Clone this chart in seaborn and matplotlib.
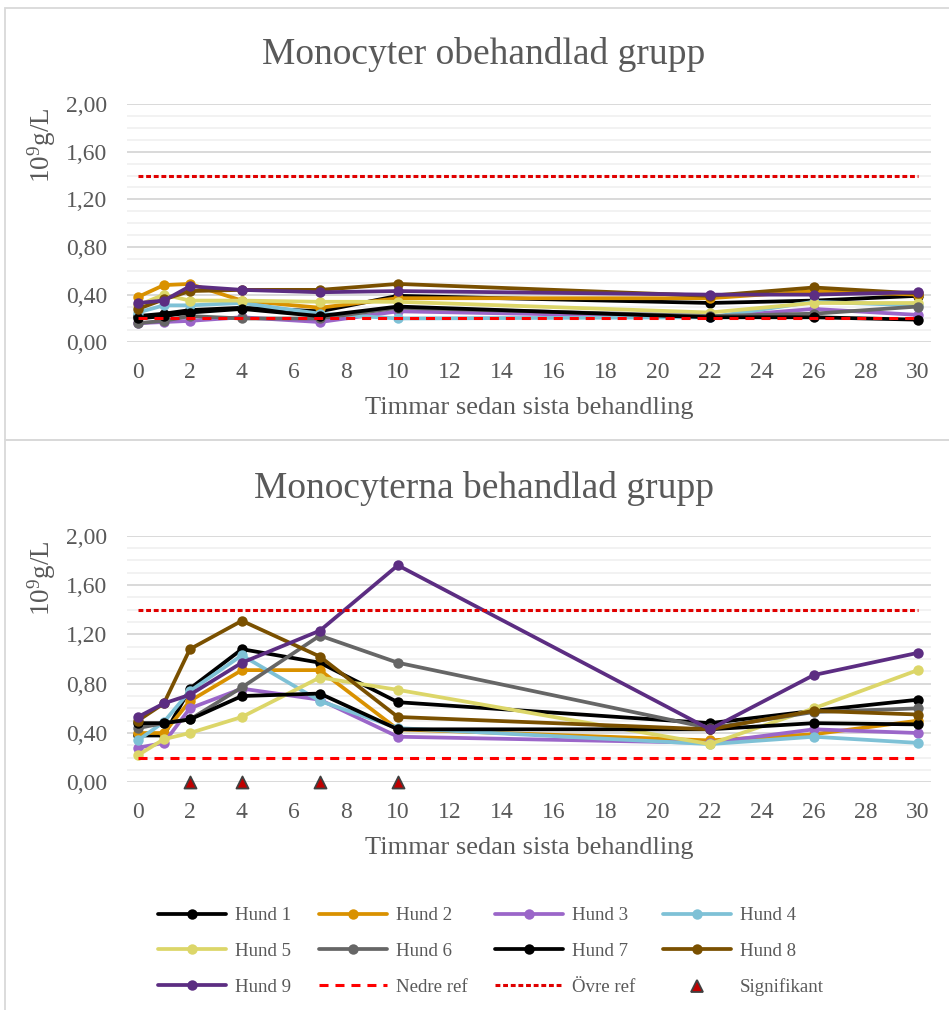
import numpy as np
import pandas as pd
import seaborn as sns
import matplotlib.pyplot as plt
from matplotlib.lines import Line2D
from matplotlib.patches import Rectangle
from matplotlib.ticker import MultipleLocator, FuncFormatter

# --- data -----------------------------------------------------------------
timmar = [0, 1, 2, 4, 7, 10, 22, 26, 30]
hundar = ["Hund 1", "Hund 2", "Hund 3", "Hund 4", "Hund 5",
          "Hund 6", "Hund 7", "Hund 8", "Hund 9"]
farger = ["#000000", "#D99100", "#9B66C9", "#7EC1D6", "#DCD669",
          "#666666", "#000000", "#7A5000", "#5C2D82"]

# obehandlad grupp
obeh_h1 = [0.22, 0.24, 0.27, 0.29, 0.26, 0.39, 0.33, 0.35, 0.39]
obeh_h2 = [0.38, 0.48, 0.49, 0.35, 0.29, 0.37, 0.37, 0.43, 0.40]
obeh_h3 = [0.16, 0.17, 0.18, 0.21, 0.17, 0.26, 0.21, 0.28, 0.23]
obeh_h4 = [0.25, 0.31, 0.31, 0.33, 0.24, 0.20, 0.21, 0.34, 0.31]
obeh_h5 = [0.31, 0.40, 0.35, 0.35, 0.34, 0.34, 0.25, 0.33, 0.33]
obeh_h6 = [0.16, 0.18, 0.22, 0.20, 0.20, 0.29, 0.22, 0.24, 0.30]
obeh_h7 = [0.20, 0.22, 0.25, 0.28, 0.22, 0.30, 0.21, 0.21, 0.19]
obeh_h8 = [0.28, 0.36, 0.43, 0.44, 0.44, 0.49, 0.39, 0.46, 0.41]
obeh_h9 = [0.33, 0.35, 0.47, 0.44, 0.42, 0.43, 0.40, 0.40, 0.42]

# behandlad grupp
beh_h1 = [0.38, 0.38, 0.76, 1.08, 0.97, 0.65, 0.48, 0.58, 0.67]
beh_h2 = [0.40, 0.40, 0.66, 0.91, 0.91, 0.43, 0.34, 0.39, 0.50]
beh_h3 = [0.28, 0.32, 0.60, 0.76, 0.67, 0.37, 0.32, 0.43, 0.40]
beh_h4 = [0.34, 0.49, 0.74, 1.03, 0.66, 0.44, 0.31, 0.37, 0.32]
beh_h5 = [0.22, 0.35, 0.40, 0.53, 0.85, 0.75, 0.31, 0.60, 0.91]
beh_h6 = [0.44, 0.48, 0.51, 0.77, 1.19, 0.97, 0.44, 0.57, 0.60]
beh_h7 = [0.48, 0.48, 0.51, 0.70, 0.72, 0.43, 0.43, 0.48, 0.47]
beh_h8 = [0.50, 0.64, 1.08, 1.31, 1.02, 0.53, 0.43, 0.58, 0.55]
beh_h9 = [0.53, 0.64, 0.71, 0.97, 1.23, 1.76, 0.43, 0.87, 1.05]

nedre_ref = 0.20
ovre_ref = 1.40
sig_timmar = [2, 4, 7, 10]

# --- style ----------------------------------------------------------------
sns.set_theme(style="white")
plt.rcParams["font.family"] = ["Liberation Serif", "DejaVu Serif"]
plt.rcParams["mathtext.fontset"] = "custom"
plt.rcParams["mathtext.rm"] = "Liberation Serif"
plt.rcParams["mathtext.default"] = "regular"
plt.rcParams["lines.scale_dashes"] = False
textfarg = "#595959"
nedre_farg = "#FF0000"
ovre_farg = "#E00000"

fig = plt.figure(figsize=(9.49, 10.10), dpi=100)
ax1 = fig.add_axes([0.1338, 0.6611, 0.847, 0.2359])
ax2 = fig.add_axes([0.1338, 0.2254, 0.847, 0.2442])


def rita(ax, serier, sig=None):
    df = pd.DataFrame({
        "Timmar": timmar * len(serier),
        "Värde": sum(serier, []),
        "Hund": np.repeat(hundar, len(timmar)),
    })
    sns.lineplot(data=df, x="Timmar", y="Värde", hue="Hund", hue_order=hundar,
                 palette=farger, marker="o", markersize=7.5, markeredgewidth=0,
                 linewidth=2.7, sort=False, legend=False, ax=ax, errorbar=None)
    ax.plot([timmar[0], timmar[-1]], [nedre_ref, nedre_ref], color=nedre_farg,
            lw=2.2, dashes=(6.5, 5), zorder=4)
    ax.plot([timmar[0], timmar[-1]], [ovre_ref, ovre_ref], color=ovre_farg,
            lw=2.2, dashes=(3.5, 2), zorder=4)
    if sig is not None:
        ax.scatter(sig, [0] * len(sig), marker="^", s=75, color="#C00000",
                   edgecolor="#404040", linewidth=1.3, zorder=6, clip_on=False)

    ax.set_xlim(-0.42, 30.5)
    ax.set_ylim(0, 2.0)
    ax.set_xticks(range(0, 31, 2))
    ax.set_yticks(np.arange(0, 2.01, 0.4))
    ax.yaxis.set_minor_locator(MultipleLocator(0.1))
    ax.yaxis.set_major_formatter(FuncFormatter(lambda v, p: f"{v:.2f}".replace(".", ",")))
    ax.grid(axis="y", which="major", color="#D9D9D9", lw=1.4, zorder=0)
    ax.grid(axis="y", which="minor", color="#F2F2F2", lw=1.4, zorder=0)
    ax.set_axisbelow(True)
    ax.tick_params(axis="both", length=0, labelsize=17, labelcolor=textfarg)
    ax.tick_params(axis="y", pad=14)
    ax.tick_params(axis="x", pad=14)
    for s in ax.spines.values():
        s.set_visible(False)
    ax.set_ylabel("")
    ax.set_xlabel("Timmar sedan sista behandling", fontsize=19, color=textfarg)


rita(ax1, [obeh_h1, obeh_h2, obeh_h3, obeh_h4, obeh_h5, obeh_h6, obeh_h7, obeh_h8, obeh_h9])
rita(ax2, [beh_h1, beh_h2, beh_h3, beh_h4, beh_h5, beh_h6, beh_h7, beh_h8, beh_h9], sig=sig_timmar)

ax1.xaxis.set_label_coords(0.5, -0.2757)
ax1.xaxis.label.set_va("center")
ax2.xaxis.set_label_coords(0.5, -0.2664)
ax2.xaxis.label.set_va("center")

fig.text(0.5095, 1 - 55 / 1010, "Monocyter obehandlad grupp", fontsize=27,
         color=textfarg, ha="center", va="center")
fig.text(0.5095, 1 - 488 / 1010, "Monocyterna behandlad grupp", fontsize=27,
         color=textfarg, ha="center", va="center")
fig.text(0.044, 1 - 145 / 1010, "10$^{9}$g/L", fontsize=19.5, color=textfarg,
         rotation=90, ha="center", va="center")
fig.text(0.044, 1 - 578 / 1010, "10$^{9}$g/L", fontsize=19.5, color=textfarg,
         rotation=90, ha="center", va="center")

# panel frames
fig.patches.append(Rectangle((5 / 949, 1 - 440 / 1010), 1.0, 432 / 1010, fill=False,
                             edgecolor="#D9D9D9", lw=1.3, transform=fig.transFigure))
fig.patches.append(Rectangle((5 / 949, -0.05), 1.0, 1 - 440 / 1010 + 0.05, fill=False,
                             edgecolor="#D9D9D9", lw=1.3, transform=fig.transFigure))

# legend (column-major order to get row-wise layout)
h = {}
for namn, f in zip(hundar, farger):
    h[namn] = Line2D([], [], color=f, lw=2.7, marker="o", markersize=7.5, markeredgewidth=0)
h["Nedre ref"] = Line2D([], [], color=nedre_farg, lw=2.2, dashes=(6.5, 5))
h["Övre ref"] = Line2D([], [], color=ovre_farg, lw=2.2, dashes=(3.5, 2))
h["Signifikant"] = Line2D([], [], lw=0, marker="^", markersize=9, color="#C00000",
                          markeredgecolor="#404040", markeredgewidth=1.3)
ordning = ["Hund 1", "Hund 5", "Hund 9", "Hund 2", "Hund 6", "Nedre ref",
           "Hund 3", "Hund 7", "Övre ref", "Hund 4", "Hund 8", "Signifikant"]
leg = fig.legend([h[k] for k in ordning], ordning, ncol=4, loc="upper left",
                 bbox_to_anchor=(158 / 949, 1 - 907 / 1010), frameon=False,
                 fontsize=13.6, handlelength=3.6, handletextpad=0.48,
                 columnspacing=1.45, labelspacing=0.98, borderpad=0, borderaxespad=0)
for t in leg.get_texts():
    t.set_color(textfarg)

fig.savefig("out.png", dpi=100)
